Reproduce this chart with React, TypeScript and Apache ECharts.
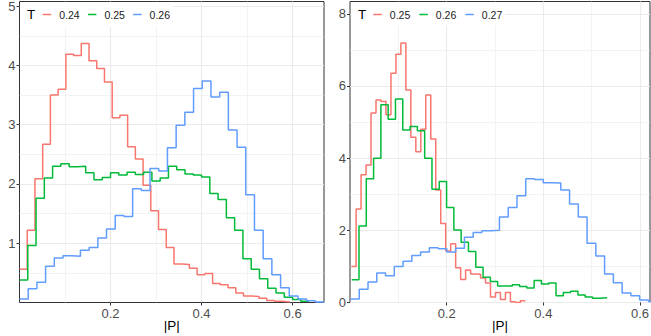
import React, { useEffect, useRef } from "react";
import * as echarts from "echarts";

// ---------- data ----------
const LEFT_NAMES = ["0.24", "0.25", "0.26"];
const RIGHT_NAMES = ["0.25", "0.26", "0.27"];
const COLORS = ["#F8766D", "#00BA38", "#619CFF"];

// histogram bin start / width (|P| units) per series
const LEFT_START = [0, 0, 0];
const LEFT_WIDTH = [0.01697, 0.01818, 0.01912];
const RIGHT_START = [0.0023, 0.0035, 0.001];
const RIGHT_WIDTH = [0.0103, 0.0151, 0.01813];

const leftT024 = [0.56, 1.22, 2.09, 2.67, 3.5, 3.6, 4.19, 4.17, 4.37, 4.08, 3.95, 3.72, 3.12, 3.16, 2.63, 2.42, 1.98, 1.55, 1.23, 0.93, 0.65, 0.64, 0.58, 0.47, 0.49, 0.32, 0.3, 0.25, 0.16, 0.11, 0.1, 0.07, 0.035, 0.02, 0.01, 0.01];
const leftT025 = [0.38, 0.96, 1.76, 2.1, 2.3, 2.34, 2.29, 2.3, 2.19, 2.07, 2.11, 2.19, 2.15, 2.2, 2.16, 2.2, 2.05, 2.1, 2.3, 2.24, 2.17, 2.15, 2.12, 1.84, 1.74, 1.43, 1.22, 0.74, 0.56, 0.4, 0.24, 0.16, 0.09, 0.05, 0.02, 0.02];
const leftT026 = [0.06, 0.23, 0.34, 0.61, 0.75, 0.79, 0.78, 0.88, 0.93, 1.09, 1.24, 1.47, 1.45, 1.92, 1.89, 2.26, 2.22, 2.61, 2.99, 3.21, 3.61, 3.74, 3.47, 3.55, 2.91, 2.62, 1.82, 1.22, 0.74, 0.47, 0.25, 0.11, 0.06, 0.03, 0.01, 0.01];

const rightT025 = [1.0, 2.59, 3.54, 3.81, 5.25, 5.61, 5.57, 5.2, 6.35, 6.88, 7.19, 5.89, 4.58, 4.18, 4.8, 5.75, 4.53, 3.12, 2.19, 1.43, 1.63, 0.96, 0.64, 0.9, 0.79, 0.78, 0.68, 0.54, 0.15, 0.28, 0.08, 0.28, 0.02, 0.0, 0.05, 0.05];
const rightT026 = [0.63, 2.12, 3.43, 4.0, 5.48, 5.08, 5.64, 4.78, 4.88, 4.76, 4.0, 3.14, 3.35, 2.63, 2.01, 1.67, 1.41, 0.98, 0.7, 0.58, 0.46, 0.46, 0.49, 0.44, 0.4, 0.61, 0.51, 0.54, 0.19, 0.28, 0.31, 0.21, 0.15, 0.12, 0.13, 0.13];
const rightT027 = [0.1, 0.37, 0.57, 0.82, 0.74, 1.0, 1.14, 1.3, 1.4, 1.52, 1.49, 1.4, 1.5, 1.81, 1.94, 1.99, 2.0, 2.37, 2.63, 2.96, 3.43, 3.41, 3.32, 3.31, 3.12, 2.73, 2.37, 1.64, 1.29, 0.79, 0.55, 0.26, 0.19, 0.07, 0.03, 0.02];

const LEFT_SERIES = [leftT024, leftT025, leftT026];
const RIGHT_SERIES = [rightT025, rightT026, rightT027];

const X_TICKS = [0.2, 0.4, 0.6];
const LEFT_Y_TICKS = [1, 2, 3, 4, 5];
const RIGHT_Y_TICKS = [0, 2, 4, 6, 8];

// ---------- styling ----------
const FONT = "Liberation Sans, Arial, Helvetica, sans-serif";
const GRID_COLOR = "#EBEBEB";

const LEFT_GRID = { left: 19.5, top: 1.5, width: 304.5, height: 301 };
const RIGHT_GRID = { left: 350, top: 1.5, width: 300, height: 301 };

function binSeries(values: number[], start: number, width: number) {
  return values.map((v, k) => [start + k * width, v]);
}

function fmtX(v: number) {
  return X_TICKS.some((t) => Math.abs(t - v) < 1e-6) ? v.toFixed(1) : "";
}

function xAxis(gridIndex: number, max: number) {
  return {
    type: "value",
    gridIndex,
    min: 0,
    max,
    interval: 0.2,
    axisLine: { show: false },
    axisTick: { show: true, length: 3, lineStyle: { color: "#333333", width: 1 }, customValues: X_TICKS },
    axisLabel: { customValues: X_TICKS, formatter: fmtX, margin: 4, fontSize: 13, color: "#4D4D4D", fontFamily: FONT },
    splitLine: { show: true, lineStyle: { color: GRID_COLOR, width: 1.1 } },
    minorTick: { show: false, splitNumber: 2 },
    minorSplitLine: { show: true, lineStyle: { color: GRID_COLOR, width: 0.6 } },
    name: "|P|",
    nameLocation: "middle",
    nameGap: 15,
    nameMoveOverlap: false,
    nameTextStyle: { fontSize: 13.5, color: "#000", fontFamily: FONT, verticalAlign: "top", lineHeight: 15 },
  };
}

function yAxis(gridIndex: number, max: number, interval: number, ticks: number[]) {
  return {
    type: "value",
    gridIndex,
    min: 0,
    max,
    interval,
    axisLine: { show: false },
    axisTick: { show: true, length: 3, lineStyle: { color: "#333333", width: 1 }, customValues: ticks },
    axisLabel: {
      customValues: ticks,
      formatter: (v: number) => (ticks.some((t) => Math.abs(t - v) < 1e-6) ? String(v) : ""),
      margin: 4,
      fontSize: 13,
      color: "#4D4D4D",
      fontFamily: FONT,
    },
    splitLine: { show: true, lineStyle: { color: GRID_COLOR, width: 1.1 } },
    minorTick: { show: false, splitNumber: 2 },
    minorSplitLine: { show: true, lineStyle: { color: GRID_COLOR, width: 0.6 } },
  };
}

function legendGraphic(boxX: number, boxW: number, boxH: number, tX: number, keyX: number, step: number, names: string[]) {
  const cy = 14.5;
  const children: any[] = [
    { type: "rect", shape: { x: boxX, y: 2, width: boxW, height: boxH }, style: { fill: "#ffffff" }, z: 1 },
    { type: "text", x: tX, y: cy, style: { text: "T", fontSize: 13.5, fill: "#000", fontFamily: FONT, verticalAlign: "middle", align: "left" }, z: 3 },
  ];
  names.forEach((n, i) => {
    const x = keyX + step * i;
    children.push({ type: "line", shape: { x1: x, y1: cy, x2: x + 8.5, y2: cy }, style: { stroke: COLORS[i], lineWidth: 1.5 }, z: 3 });
    children.push({ type: "text", x: x + 16.5, y: cy, style: { text: n, fontSize: 10.5, fill: "#1A1A1A", fontFamily: FONT, verticalAlign: "middle", align: "left" }, z: 3 });
  });
  return children;
}

export default function App() {
  const ref = useRef<HTMLDivElement>(null);
  useEffect(() => {
    if (!ref.current) return;
    const chart = echarts.init(ref.current, undefined, { renderer: "svg" });

    const series: any[] = [];
    LEFT_SERIES.forEach((vals, i) => {
      series.push({
        type: "line",
        name: "L" + LEFT_NAMES[i],
        xAxisIndex: 0,
        yAxisIndex: 0,
        step: "end",
        showSymbol: false,
        symbol: "none",
        color: COLORS[i],
        lineStyle: { color: COLORS[i], width: 1.5 },
        data: binSeries(vals, LEFT_START[i], LEFT_WIDTH[i]),
        z: 2,
      });
    });
    RIGHT_SERIES.forEach((vals, i) => {
      series.push({
        type: "line",
        name: "R" + RIGHT_NAMES[i],
        xAxisIndex: 1,
        yAxisIndex: 1,
        step: "end",
        showSymbol: false,
        symbol: "none",
        color: COLORS[i],
        lineStyle: { color: COLORS[i], width: 1.5 },
        data: binSeries(vals, RIGHT_START[i], RIGHT_WIDTH[i]),
        z: 2,
      });
    });

    chart.setOption({
      animation: false,
      backgroundColor: "#ffffff",
      textStyle: { fontFamily: FONT },
      grid: [
        { ...LEFT_GRID, outerBoundsMode: "none", containLabel: false, show: true, borderColor: "#333333", borderWidth: 1, backgroundColor: "transparent" },
        { ...RIGHT_GRID, outerBoundsMode: "none", containLabel: false, show: true, borderColor: "#333333", borderWidth: 1, backgroundColor: "transparent" },
      ],
      xAxis: [xAxis(0, 0.669), xAxis(1, 0.6207)],
      yAxis: [yAxis(0, 5.08, 1, LEFT_Y_TICKS), yAxis(1, 8.34, 2, RIGHT_Y_TICKS)],
      series,
      graphic: [
        { type: "group", children: legendGraphic(20, 153, 25, 27, 42.7, 45.2, LEFT_NAMES) },
        { type: "group", children: legendGraphic(351, 154, 23.5, 358, 373.3, 46, RIGHT_NAMES) },
      ],
    });
    return () => chart.dispose();
  }, []);
  return <div ref={ref} style={{ position: "fixed", left: 0, top: 0, width: 651, height: 336 }} />;
}
